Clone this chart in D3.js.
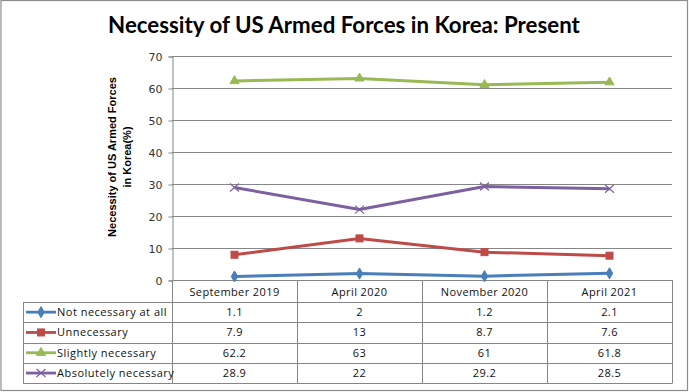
<!DOCTYPE html>
<html><head><meta charset="utf-8">
<script src="https://cdn.jsdelivr.net/npm/d3@7"></script>
<style>
html,body{margin:0;padding:0;background:#fff;}
svg{display:block;}
</style></head>
<body>
<svg id="chart" width="689" height="392"></svg>
<script>
const title = "Necessity of US Armed Forces in Korea: Present";
const yTitleLines = ["Necessity of US Armed Forces", "in Korea(%)"];
const categories = ["September 2019", "April 2020", "November 2020", "April 2021"];
const seriesNames = ["Not necessary at all", "Unnecessary", "Slightly necessary", "Absolutely necessary"];
const notNecessary = [1.1, 2, 1.2, 2.1];
const unnecessary = [7.9, 13, 8.7, 7.6];
const slightlyNecessary = [62.2, 63, 61, 61.8];
const absolutelyNecessary = [28.9, 22, 29.2, 28.5];
const valueLabels = [
  ["1.1", "2", "1.2", "2.1"],
  ["7.9", "13", "8.7", "7.6"],
  ["62.2", "63", "61", "61.8"],
  ["28.9", "22", "29.2", "28.5"]
];
const yTicks = [0, 10, 20, 30, 40, 50, 60, 70];
const colors = ["#4A7EBB", "#BE4B48", "#98B954", "#7D60A0"];
const markers = ["diamond", "square", "triangle", "cross"];

const series = [notNecessary, unnecessary, slightlyNecessary, absolutelyNecessary].map((v, i) => ({
  name: seriesNames[i], values: v, color: colors[i], marker: markers[i], labels: valueLabels[i]
}));

const svg = d3.select("#chart");
const plot = {left: 172, right: 672, top: 56, bottom: 280};
const gridColor = "#868686";

// outer border
svg.append("rect").attr("x", 1).attr("y", 0.5).attr("width", 686.5).attr("height", 390)
  .attr("fill", "#fff").attr("stroke", "#8c8c8c").attr("stroke-width", 1.2);

// title
const t = svg.append("text").attr("x", 344).attr("y", 33).attr("text-anchor", "middle")
  .attr("font-family", "Lato, 'Open Sans', sans-serif").attr("font-weight", "bold")
  .attr("font-size", 22).attr("fill", "#000").text(title);
const tw = t.node().getComputedTextLength();
t.attr("font-size", 22 * 472 / tw);

const x = d3.scaleBand().domain(categories).range([plot.left, plot.right]);
const y = d3.scaleLinear().domain([0, 70]).range([plot.bottom, plot.top]);

// gridlines
svg.append("g").selectAll("line").data(yTicks.filter(d => d > 0)).join("line")
  .attr("x1", plot.left).attr("x2", plot.right)
  .attr("y1", d => Math.round(y(d)) + 0.5).attr("y2", d => Math.round(y(d)) + 0.5)
  .attr("stroke", gridColor).attr("stroke-width", 1);

// y axis
const yAxis = d3.axisLeft(y).tickValues(yTicks).tickSize(4).tickPadding(6);
const ga = svg.append("g").attr("transform", `translate(${plot.left + 0.5},0.5)`).call(yAxis);
ga.select(".domain").attr("stroke", gridColor);
ga.selectAll(".tick line").attr("stroke", gridColor);
ga.selectAll(".tick text").attr("font-family", "'DejaVu Sans', Verdana, sans-serif")
  .attr("font-size", 11).attr("fill", "#333");

// y axis title
const yt = svg.append("text")
  .attr("font-family", "'Liberation Sans', Arial, sans-serif").attr("font-weight", "bold")
  .attr("font-size", 11).attr("fill", "#000").attr("text-anchor", "middle");
yTitleLines.forEach((l, i) => {
  yt.append("tspan").attr("x", 0).attr("y", i * 15).text(l);
});
const firstLen = yt.select("tspan").node().getComputedTextLength();
yt.attr("font-size", 11 * 160 / firstLen);
yt.attr("transform", "translate(116,157) rotate(-90)");

// x axis line (top of table)
svg.append("line").attr("x1", plot.left).attr("x2", plot.right)
  .attr("y1", plot.bottom + 0.5).attr("y2", plot.bottom + 0.5).attr("stroke", gridColor);

// table
const rowTop = 302, rowH = 20.3, tableLeft = 23, tableBottom = rowTop + rowH * 4;
const tg = svg.append("g");
categories.forEach(c => {
  const xl = x(c);
  tg.append("line").attr("x1", Math.round(xl) + 0.5).attr("x2", Math.round(xl) + 0.5)
    .attr("y1", plot.bottom).attr("y2", tableBottom).attr("stroke", gridColor);
});
tg.append("line").attr("x1", plot.right + 0.5).attr("x2", plot.right + 0.5)
  .attr("y1", plot.bottom).attr("y2", tableBottom).attr("stroke", gridColor);
tg.append("line").attr("x1", tableLeft + 0.5).attr("x2", tableLeft + 0.5)
  .attr("y1", rowTop).attr("y2", tableBottom).attr("stroke", gridColor);
for (let i = 0; i <= 4; i++) {
  const yy = Math.round(rowTop + i * rowH) + 0.5;
  tg.append("line").attr("x1", tableLeft).attr("x2", plot.right + 0.5)
    .attr("y1", yy).attr("y2", yy).attr("stroke", gridColor);
}
const tableFont = "'Open Sans', 'DejaVu Sans', sans-serif";
tg.selectAll("text.cat").data(categories).join("text").attr("class", "cat")
  .attr("x", d => x(d) + x.bandwidth() / 2).attr("y", plot.bottom + 15.5)
  .attr("text-anchor", "middle").attr("font-family", tableFont).attr("font-size", 11)
  .attr("fill", "#111").attr("letter-spacing", 0.4).text(d => d);

function drawMarker(g, type, color, cx, cy) {
  if (type === "diamond") {
    g.append("path").attr("d", d3.symbol(d3.symbolDiamond, 36)())
      .attr("transform", `translate(${cx},${cy})`).attr("fill", color).attr("stroke", color);
  } else if (type === "square") {
    g.append("rect").attr("x", cx - 3.5).attr("y", cy - 3.5).attr("width", 7).attr("height", 7)
      .attr("fill", color).attr("stroke", color);
  } else if (type === "triangle") {
    g.append("path").attr("d", d3.symbol(d3.symbolTriangle, 36)())
      .attr("transform", `translate(${cx},${cy})`).attr("fill", color).attr("stroke", color);
  } else {
    g.append("path").attr("d", `M${cx - 4.5},${cy - 4}L${cx + 4.5},${cy + 4}M${cx - 4.5},${cy + 4}L${cx + 4.5},${cy - 4}`)
      .attr("stroke", color).attr("stroke-width", 1.2).attr("fill", "none");
  }
}

series.forEach((s, i) => {
  const cy = rowTop + i * rowH + rowH / 2;
  const lg = tg.append("g");
  lg.append("line").attr("x1", 26).attr("x2", 56).attr("y1", cy).attr("y2", cy)
    .attr("stroke", s.color).attr("stroke-width", 2.8);
  drawMarker(lg, s.marker, s.color, 41, cy);
  lg.append("text").attr("x", 57).attr("y", cy + 4).attr("font-family", tableFont)
    .attr("font-size", 11).attr("fill", "#111").attr("letter-spacing", 0.5).text(s.name);
  tg.append("g").selectAll("text").data(s.labels).join("text")
    .attr("x", (d, j) => x(categories[j]) + x.bandwidth() / 2).attr("y", cy + 4)
    .attr("text-anchor", "middle").attr("font-family", tableFont).attr("font-size", 11)
    .attr("fill", "#111").attr("letter-spacing", 0.4).text(d => d);
});

const line = d3.line().x((d, j) => x(categories[j]) + x.bandwidth() / 2).y(d => y(d));
series.forEach(s => {
  const g = svg.append("g");
  g.append("path").attr("d", line(s.values)).attr("fill", "none")
    .attr("stroke", s.color).attr("stroke-width", 3).attr("stroke-linejoin", "round");
  s.values.forEach((v, j) => drawMarker(g, s.marker, s.color, x(categories[j]) + x.bandwidth() / 2, y(v)));
});
</script>
</body></html>
